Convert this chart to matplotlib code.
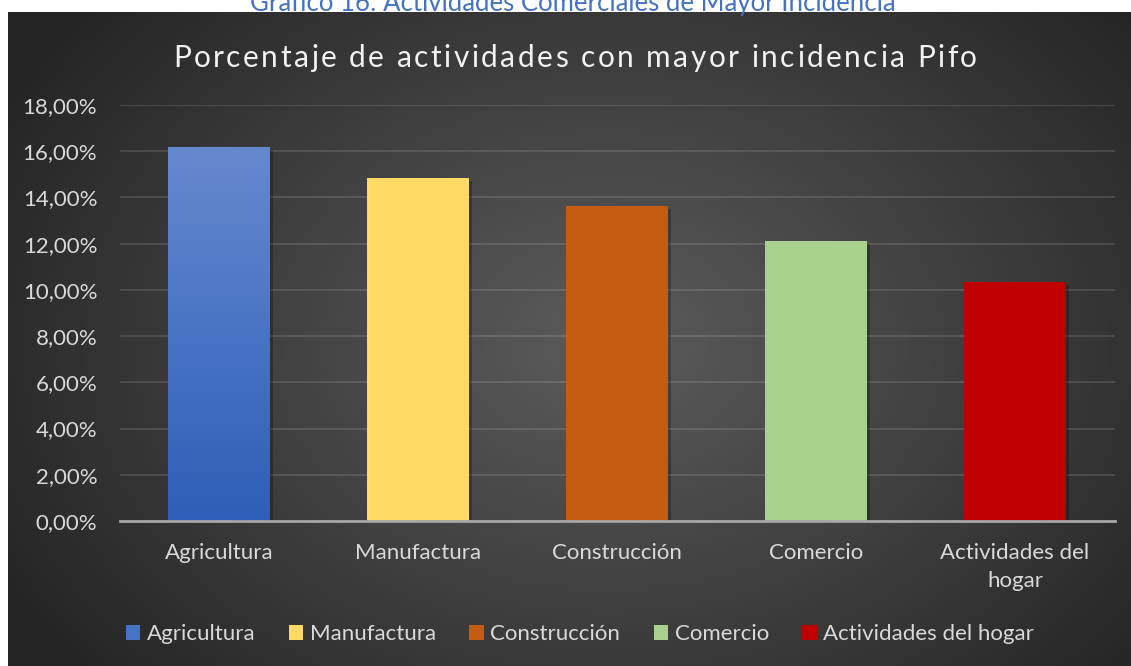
import numpy as np
import matplotlib
matplotlib.use("Agg")
import matplotlib.pyplot as plt
from matplotlib.patches import Patch
from matplotlib.ticker import FuncFormatter, MultipleLocator
from matplotlib.font_manager import FontProperties
import matplotlib.patheffects as pe

categories = ["Agricultura", "Manufactura", "Construcción", "Comercio", "Actividades del hogar"]
tick_labels = ["Agricultura", "Manufactura", "Construcción", "Comercio", "Actividades del\nhogar"]
values = [16.18, 14.84, 13.63, 12.12, 10.34]
colors = ["#4472C4", "#FFD966", "#C55A11", "#A9D18E", "#C00000"]
chart_title = "Porcentaje de actividades con mayor incidencia Pifo"
caption = "Gráfico 16: Actividades Comerciales de Mayor Incidencia"

FONT = ["Lato", "DejaVu Sans"]
plt.rcParams["font.family"] = FONT

W, H = 1131, 666
fig = plt.figure(figsize=(W / 100, H / 100), dpi=100)
fig.patch.set_facecolor("white")

# background panel with radial gradient
x0, y0 = 8, 12
bg = fig.add_axes([x0 / W, 0, (W - x0) / W, (H - y0) / H])
bg.set_axis_off()
pw, ph = W - x0, H - y0
yy, xx = np.mgrid[0:ph, 0:pw]
cx, cy = 600, 330
r = np.sqrt(((xx - cx) / 700.0) ** 2 + ((yy - cy) / 520.0) ** 2)
r = np.clip(r, 0, 1)
c_in = np.array([0x5c, 0x5c, 0x5c]) / 255
c_out = np.array([0x24, 0x24, 0x24]) / 255
img = c_in[None, None, :] * (1 - r[..., None]) + c_out[None, None, :] * r[..., None]
bg.imshow(img, aspect="auto", extent=[0, pw, ph, 0])
bg.set_xlim(0, pw)
bg.set_ylim(ph, 0)

# caption above panel (partially hidden by the panel, as in the source)
fig.text(573 / W, 1 - 11 / H, caption, ha="center", va="baseline",
         color="#4472C4", fontsize=18.5, family=FONT)

# main axes
left, right = 119.5, 1114.5
top, bottom = 105, 521
ax = fig.add_axes([left / W, 1 - bottom / H, (right - left) / W, (bottom - top) / H])
ax.set_facecolor("none")
x = np.arange(len(categories))
bars = ax.bar(x, values, width=0.51, color=colors, zorder=3,
              path_effects=[pe.SimplePatchShadow(offset=(2, -2), alpha=0.25, shadow_rgbFace="black"), pe.Normal()])

# gradient for the first bar
b = bars[0]
grad = np.linspace(0, 1, 256)[:, None]
top_c = np.array([0x65, 0x89, 0xcf]) / 255
bot_c = np.array([0x2e, 0x5e, 0xb8]) / 255
gimg = top_c[None, None, :] * (1 - grad[..., None]) + bot_c[None, None, :] * grad[..., None]
gimg = np.repeat(gimg, 2, axis=1)
bx, bw, bh = b.get_x(), b.get_width(), b.get_height()
im = ax.imshow(gimg, extent=[bx, bx + bw, 0, bh], aspect="auto", zorder=4)
im.set_clip_path(b)

ax.set_xlim(-0.5, len(categories) - 0.5)
ax.set_ylim(0, 18)
ax.yaxis.set_major_locator(MultipleLocator(2))
ax.yaxis.set_major_formatter(FuncFormatter(lambda v, p: f"{v:.2f}".replace(".", ",") + "%"))
ax.grid(axis="y", color="#ffffff", alpha=0.12, linewidth=1.5, zorder=0)
ax.set_axisbelow(True)
for s in ["top", "right", "left"]:
    ax.spines[s].set_visible(False)
ax.spines["bottom"].set_color("#a6a6a6")
ax.spines["bottom"].set_linewidth(2)
ax.spines["bottom"].set_zorder(5)
ax.set_xticks(x)
ax.set_xticklabels(tick_labels, color="#d9d9d9", fontsize=16, linespacing=1.5)
ax.tick_params(axis="x", length=0, pad=16)
ax.tick_params(axis="y", length=0, pad=16, labelcolor="#d9d9d9", labelsize=16)

# title with letter spacing
renderer = fig.canvas.get_renderer()
fp = FontProperties(family=FONT, size=21.5)
def tw(s):
    w, h, d = renderer.get_text_width_height_descent(s + "x", fp, ismath=False)
    w2, _, _ = renderer.get_text_width_height_descent("x", fp, ismath=False)
    return w - w2
natural = tw(chart_title)
target_w = 977 - 173
n = len(chart_title)
spacing = (target_w - natural) / (n - 1)
start = 173
for i, ch in enumerate(chart_title):
    px = start + tw(chart_title[:i]) + i * spacing
    fig.text(px / W, 1 - 58 / H, ch, ha="left", va="center", fontproperties=fp,
             color="#f2f2f2")

# legend
handles = [Patch(facecolor=c, edgecolor="none") for c in colors]
leg = fig.legend(handles, categories, loc="center", bbox_to_anchor=(580 / W, 1 - 634 / H),
                 ncol=5, frameon=False, fontsize=16, labelcolor="#d9d9d9",
                 handlelength=0.65, handleheight=0.65, handletextpad=0.3, columnspacing=1.5)

fig.savefig("out.png", dpi=100, facecolor=fig.get_facecolor())
